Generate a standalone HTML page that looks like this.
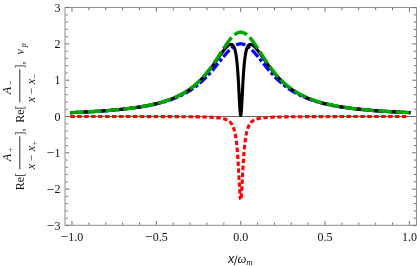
<!DOCTYPE html>
<html><head><meta charset="utf-8"><style>
html,body{margin:0;padding:0;background:#fff;}
.t{filter:grayscale(1);}
svg{display:block;font-family:"Liberation Serif",serif;}
</style></head><body>
<svg width="417" height="266" viewBox="0 0 417 266">
<rect width="417" height="266" fill="#fff"/>
<g fill="none" stroke-linejoin="round">
<path d="M65.0,116.5 H416.5" stroke="#000" stroke-width="0.6"/>
<path d="M70.30,112.68 L71.52,112.63 L72.74,112.58 L73.96,112.53 L75.18,112.47 L76.40,112.42 L77.62,112.37 L78.84,112.31 L80.05,112.25 L81.27,112.20 L82.49,112.14 L83.71,112.08 L84.93,112.02 L86.15,111.95 L87.37,111.89 L88.59,111.82 L89.81,111.76 L91.03,111.69 L92.25,111.62 L93.47,111.55 L94.69,111.48 L95.91,111.40 L97.12,111.33 L98.34,111.25 L99.56,111.17 L100.78,111.09 L102.00,111.00 L103.22,110.92 L104.44,110.83 L105.66,110.74 L106.88,110.65 L108.10,110.56 L109.32,110.46 L110.54,110.36 L111.76,110.26 L112.98,110.16 L114.19,110.05 L115.41,109.94 L116.63,109.83 L117.85,109.72 L119.07,109.60 L120.29,109.48 L121.51,109.36 L122.73,109.23 L123.95,109.10 L125.17,108.97 L126.39,108.83 L127.61,108.69 L128.83,108.55 L130.05,108.40 L131.26,108.25 L132.48,108.09 L133.70,107.93 L134.92,107.77 L136.14,107.59 L137.36,107.42 L138.58,107.24 L139.80,107.05 L141.02,106.86 L142.24,106.66 L143.46,106.46 L144.68,106.25 L145.90,106.04 L147.12,105.81 L148.33,105.58 L149.55,105.35 L150.77,105.10 L151.99,104.85 L153.21,104.59 L154.43,104.32 L155.65,104.04 L156.87,103.76 L158.09,103.46 L159.31,103.15 L160.53,102.84 L161.75,102.51 L162.97,102.17 L164.19,101.82 L165.40,101.45 L166.62,101.08 L167.84,100.69 L169.06,100.29 L170.28,99.87 L171.50,99.43 L172.72,98.98 L173.94,98.52 L175.16,98.03 L176.38,97.53 L177.60,97.01 L178.82,96.47 L180.04,95.91 L181.25,95.33 L182.47,94.73 L183.69,94.10 L184.91,93.45 L186.13,92.77 L187.35,92.07 L188.57,91.34 L189.79,90.58 L191.01,89.79 L192.23,88.97 L193.45,88.12 L194.67,87.24 L195.89,86.32 L197.11,85.37 L198.32,84.39 L199.54,83.36 L200.76,82.31 L201.98,81.21 L203.20,80.07 L204.42,78.90 L205.64,77.69 L206.86,76.44 L208.08,75.15 L209.30,73.83 L210.52,72.47 L211.74,71.08 L212.96,69.66 L214.18,68.20 L215.39,66.73 L215.52,66.57 L215.65,66.41 L215.78,66.26 L215.90,66.10 L216.03,65.95 L216.16,65.79 L216.29,65.63 L216.41,65.48 L216.54,65.32 L216.67,65.16 L216.79,65.01 L216.92,64.85 L217.05,64.69 L217.18,64.53 L217.30,64.38 L217.43,64.22 L217.56,64.06 L217.68,63.90 L217.81,63.74 L217.94,63.58 L218.07,63.43 L218.19,63.27 L218.32,63.11 L218.45,62.95 L218.57,62.79 L218.70,62.63 L218.83,62.47 L218.96,62.31 L219.08,62.15 L219.21,62.00 L219.34,61.84 L219.46,61.68 L219.59,61.52 L219.72,61.36 L219.85,61.20 L219.97,61.04 L220.10,60.88 L220.23,60.72 L220.35,60.56 L220.48,60.40 L220.61,60.25 L220.74,60.09 L220.86,59.93 L220.99,59.77 L221.12,59.61 L221.24,59.45 L221.37,59.29 L221.50,59.14 L221.63,58.98 L221.75,58.82 L221.88,58.66 L222.01,58.50 L222.13,58.35 L222.26,58.19 L222.39,58.03 L222.52,57.88 L222.64,57.72 L222.77,57.56 L222.90,57.41 L223.02,57.25 L223.15,57.10 L223.28,56.94 L223.41,56.79 L223.53,56.63 L223.66,56.48 L223.79,56.32 L223.91,56.17 L224.04,56.02 L224.17,55.86 L224.30,55.71 L224.42,55.56 L224.55,55.41 L224.68,55.26 L224.80,55.11 L224.93,54.95 L225.06,54.80 L225.19,54.66 L225.31,54.51 L225.44,54.36 L225.57,54.21 L225.70,54.06 L225.82,53.91 L225.95,53.77 L226.08,53.62 L226.20,53.48 L226.33,53.33 L226.46,53.19 L226.59,53.04 L226.71,52.90 L226.84,52.76 L226.97,52.62 L227.09,52.48 L227.22,52.34 L227.35,52.20 L227.48,52.06 L227.60,51.92 L227.73,51.78 L227.86,51.64 L227.98,51.51 L228.11,51.37 L228.24,51.24 L228.37,51.11 L228.49,50.97 L228.62,50.84 L228.75,50.71 L228.87,50.58 L229.00,50.45 L229.13,50.32 L229.26,50.19 L229.38,50.07 L229.51,49.94 L229.64,49.81 L229.76,49.69 L229.89,49.57 L230.02,49.45 L230.15,49.32 L230.27,49.20 L230.40,49.09 L230.53,48.97 L230.65,48.85 L230.78,48.73 L230.91,48.62 L231.04,48.51 L231.16,48.39 L231.29,48.28 L231.42,48.17 L231.54,48.06 L231.67,47.95 L231.80,47.85 L231.93,47.74 L232.05,47.64 L232.18,47.53 L232.31,47.43 L232.43,47.33 L232.56,47.23 L232.69,47.13 L232.82,47.03 L232.94,46.94 L233.07,46.84 L233.20,46.75 L233.32,46.66 L233.45,46.57 L233.58,46.48 L233.71,46.39 L233.83,46.30 L233.96,46.22 L234.09,46.13 L234.21,46.05 L234.34,45.97 L234.47,45.89 L234.60,45.81 L234.72,45.74 L234.85,45.66 L234.98,45.59 L235.10,45.51 L235.23,45.44 L235.36,45.37 L235.49,45.31 L235.61,45.24 L235.74,45.17 L235.87,45.11 L236.00,45.05 L236.12,44.99 L236.25,44.93 L236.38,44.87 L236.50,44.82 L236.63,44.76 L236.76,44.71 L236.89,44.66 L237.01,44.61 L237.14,44.56 L237.27,44.52 L237.39,44.47 L237.52,44.43 L237.65,44.39 L237.78,44.35 L237.90,44.31 L238.03,44.27 L238.16,44.24 L238.28,44.21 L238.41,44.18 L238.54,44.15 L238.67,44.12 L238.79,44.09 L238.92,44.07 L239.05,44.04 L239.17,44.02 L239.30,44.00 L239.43,43.99 L239.56,43.97 L239.68,43.95 L239.81,43.94 L239.94,43.93 L240.06,43.92 L240.19,43.91 L240.32,43.91 L240.45,43.90 L240.57,43.90 L240.70,43.90" stroke="#0000ff" stroke-width="3.3" stroke-dasharray="9.300 2.500 3.400 2.500" stroke-dashoffset="6.434"/><path d="M240.10,43.92 L240.19,43.91 L240.27,43.91 L240.36,43.91 L240.44,43.90 L240.53,43.90 L240.61,43.90 L240.70,43.90 L240.83,43.90 L240.95,43.90 L241.08,43.91 L241.21,43.91 L241.34,43.92 L241.46,43.93 L241.59,43.94 L241.72,43.95 L241.84,43.97 L241.97,43.99 L242.10,44.00 L242.23,44.02 L242.35,44.04 L242.48,44.07 L242.61,44.09 L242.73,44.12 L242.86,44.15 L242.99,44.18 L243.12,44.21 L243.24,44.24 L243.37,44.27 L243.50,44.31 L243.62,44.35 L243.75,44.39 L243.88,44.43 L244.01,44.47 L244.13,44.52 L244.26,44.56 L244.39,44.61 L244.51,44.66 L244.64,44.71 L244.77,44.76 L244.90,44.82 L245.02,44.87 L245.15,44.93 L245.28,44.99 L245.40,45.05 L245.53,45.11 L245.66,45.17 L245.79,45.24 L245.91,45.31 L246.04,45.37 L246.17,45.44 L246.30,45.51 L246.42,45.59 L246.55,45.66 L246.68,45.74 L246.80,45.81 L246.93,45.89 L247.06,45.97 L247.19,46.05 L247.31,46.13 L247.44,46.22 L247.57,46.30 L247.69,46.39 L247.82,46.48 L247.95,46.57 L248.08,46.66 L248.20,46.75 L248.33,46.84 L248.46,46.94 L248.58,47.03 L248.71,47.13 L248.84,47.23 L248.97,47.33 L249.09,47.43 L249.22,47.53 L249.35,47.64 L249.47,47.74 L249.60,47.85 L249.73,47.95 L249.86,48.06 L249.98,48.17 L250.11,48.28 L250.24,48.39 L250.36,48.51 L250.49,48.62 L250.62,48.73 L250.75,48.85 L250.87,48.97 L251.00,49.09 L251.13,49.20 L251.25,49.32 L251.38,49.45 L251.51,49.57 L251.64,49.69 L251.76,49.81 L251.89,49.94 L252.02,50.07 L252.14,50.19 L252.27,50.32 L252.40,50.45 L252.53,50.58 L252.65,50.71 L252.78,50.84 L252.91,50.97 L253.03,51.11 L253.16,51.24 L253.29,51.37 L253.42,51.51 L253.54,51.64 L253.67,51.78 L253.80,51.92 L253.92,52.06 L254.05,52.20 L254.18,52.34 L254.31,52.48 L254.43,52.62 L254.56,52.76 L254.69,52.90 L254.81,53.04 L254.94,53.19 L255.07,53.33 L255.20,53.48 L255.32,53.62 L255.45,53.77 L255.58,53.91 L255.70,54.06 L255.83,54.21 L255.96,54.36 L256.09,54.51 L256.21,54.66 L256.34,54.80 L256.47,54.95 L256.60,55.11 L256.72,55.26 L256.85,55.41 L256.98,55.56 L257.10,55.71 L257.23,55.86 L257.36,56.02 L257.49,56.17 L257.61,56.32 L257.74,56.48 L257.87,56.63 L257.99,56.79 L258.12,56.94 L258.25,57.10 L258.38,57.25 L258.50,57.41 L258.63,57.56 L258.76,57.72 L258.88,57.88 L259.01,58.03 L259.14,58.19 L259.27,58.35 L259.39,58.50 L259.52,58.66 L259.65,58.82 L259.77,58.98 L259.90,59.14 L260.03,59.29 L260.16,59.45 L260.28,59.61 L260.41,59.77 L260.54,59.93 L260.66,60.09 L260.79,60.25 L260.92,60.40 L261.05,60.56 L261.17,60.72 L261.30,60.88 L261.43,61.04 L261.55,61.20 L261.68,61.36 L261.81,61.52 L261.94,61.68 L262.06,61.84 L262.19,62.00 L262.32,62.15 L262.44,62.31 L262.57,62.47 L262.70,62.63 L262.83,62.79 L262.95,62.95 L263.08,63.11 L263.21,63.27 L263.33,63.43 L263.46,63.58 L263.59,63.74 L263.72,63.90 L263.84,64.06 L263.97,64.22 L264.10,64.38 L264.22,64.53 L264.35,64.69 L264.48,64.85 L264.61,65.01 L264.73,65.16 L264.86,65.32 L264.99,65.48 L265.11,65.63 L265.24,65.79 L265.37,65.95 L265.50,66.10 L265.62,66.26 L265.75,66.41 L265.88,66.57 L266.00,66.73 L267.21,68.19 L268.41,69.62 L269.62,71.03 L270.82,72.41 L272.03,73.75 L273.24,75.06 L274.44,76.34 L275.64,77.57 L276.85,78.78 L278.06,79.94 L279.26,81.06 L280.46,82.15 L281.67,83.21 L282.88,84.22 L284.08,85.20 L285.28,86.15 L286.49,87.06 L287.69,87.94 L288.90,88.78 L290.10,89.60 L291.31,90.39 L292.51,91.14 L293.72,91.87 L294.92,92.57 L296.13,93.25 L297.33,93.90 L298.54,94.53 L299.75,95.13 L300.95,95.72 L302.15,96.28 L303.36,96.82 L304.56,97.34 L305.77,97.84 L306.97,98.33 L308.18,98.79 L309.38,99.25 L310.59,99.68 L311.79,100.10 L313.00,100.51 L314.20,100.90 L315.41,101.28 L316.62,101.64 L317.82,101.99 L319.02,102.34 L320.23,102.66 L321.43,102.98 L322.64,103.29 L323.84,103.59 L325.05,103.88 L326.25,104.16 L327.46,104.43 L328.66,104.69 L329.87,104.95 L331.07,105.19 L332.28,105.43 L333.48,105.66 L334.69,105.89 L335.89,106.11 L337.10,106.32 L338.30,106.52 L339.51,106.72 L340.71,106.91 L341.92,107.10 L343.12,107.28 L344.33,107.46 L345.53,107.63 L346.74,107.80 L347.94,107.96 L349.15,108.12 L350.36,108.28 L351.56,108.43 L352.76,108.57 L353.97,108.71 L355.17,108.85 L356.38,108.99 L357.58,109.12 L358.79,109.25 L360.00,109.37 L361.20,109.49 L362.40,109.61 L363.61,109.73 L364.81,109.84 L366.02,109.95 L367.22,110.05 L368.43,110.16 L369.63,110.26 L370.84,110.36 L372.04,110.46 L373.25,110.55 L374.45,110.64 L375.66,110.74 L376.87,110.82 L378.07,110.91 L379.27,110.99 L380.48,111.08 L381.68,111.16 L382.89,111.24 L384.09,111.31 L385.30,111.39 L386.50,111.46 L387.71,111.54 L388.91,111.61 L390.12,111.68 L391.32,111.74 L392.53,111.81 L393.74,111.87 L394.94,111.94 L396.14,112.00 L397.35,112.06 L398.55,112.12 L399.76,112.18 L400.96,112.24 L402.17,112.29 L403.38,112.35 L404.58,112.40 L405.78,112.46 L406.99,112.51 L408.19,112.56 L409.40,112.61" stroke="#0000ff" stroke-width="3.3" stroke-dasharray="9.300 2.500 3.400 2.500" stroke-dashoffset="4.050"/>
<path d="M70.30,116.52 L71.52,116.52 L72.74,116.52 L73.96,116.52 L75.18,116.52 L76.40,116.53 L77.62,116.53 L78.84,116.53 L80.05,116.53 L81.27,116.53 L82.49,116.53 L83.71,116.53 L84.93,116.53 L86.15,116.53 L87.37,116.53 L88.59,116.53 L89.81,116.53 L91.03,116.53 L92.25,116.53 L93.47,116.53 L94.69,116.53 L95.91,116.53 L97.12,116.53 L98.34,116.53 L99.56,116.53 L100.78,116.53 L102.00,116.54 L103.22,116.54 L104.44,116.54 L105.66,116.54 L106.88,116.54 L108.10,116.54 L109.32,116.54 L110.54,116.54 L111.76,116.54 L112.98,116.54 L114.19,116.54 L115.41,116.54 L116.63,116.54 L117.85,116.55 L119.07,116.55 L120.29,116.55 L121.51,116.55 L122.73,116.55 L123.95,116.55 L125.17,116.55 L126.39,116.55 L127.61,116.55 L128.83,116.55 L130.05,116.56 L131.26,116.56 L132.48,116.56 L133.70,116.56 L134.92,116.56 L136.14,116.56 L137.36,116.56 L138.58,116.57 L139.80,116.57 L141.02,116.57 L142.24,116.57 L143.46,116.57 L144.68,116.57 L145.90,116.58 L147.12,116.58 L148.33,116.58 L149.55,116.58 L150.77,116.58 L151.99,116.59 L153.21,116.59 L154.43,116.59 L155.65,116.59 L156.87,116.60 L158.09,116.60 L159.31,116.60 L160.53,116.61 L161.75,116.61 L162.97,116.61 L164.19,116.62 L165.40,116.62 L166.62,116.62 L167.84,116.63 L169.06,116.63 L170.28,116.64 L171.50,116.64 L172.72,116.65 L173.94,116.65 L175.16,116.66 L176.38,116.66 L177.60,116.67 L178.82,116.68 L180.04,116.68 L181.25,116.69 L182.47,116.70 L183.69,116.71 L184.91,116.72 L186.13,116.73 L187.35,116.74 L188.57,116.75 L189.79,116.76 L191.01,116.77 L192.23,116.79 L193.45,116.80 L194.67,116.82 L195.89,116.84 L197.11,116.86 L198.32,116.88 L199.54,116.90 L200.76,116.92 L201.98,116.95 L203.20,116.98 L204.42,117.01 L205.64,117.05 L206.86,117.09 L208.08,117.13 L209.30,117.18 L210.52,117.24 L211.74,117.30 L212.96,117.38 L214.18,117.46 L215.39,117.55 L215.52,117.56 L215.65,117.57 L215.78,117.58 L215.90,117.59 L216.03,117.60 L216.16,117.61 L216.29,117.63 L216.41,117.64 L216.54,117.65 L216.67,117.66 L216.79,117.67 L216.92,117.69 L217.05,117.70 L217.18,117.71 L217.30,117.73 L217.43,117.74 L217.56,117.75 L217.68,117.77 L217.81,117.78 L217.94,117.79 L218.07,117.81 L218.19,117.82 L218.32,117.84 L218.45,117.85 L218.57,117.87 L218.70,117.88 L218.83,117.90 L218.96,117.92 L219.08,117.93 L219.21,117.95 L219.34,117.97 L219.46,117.98 L219.59,118.00 L219.72,118.02 L219.85,118.04 L219.97,118.05 L220.10,118.07 L220.23,118.09 L220.35,118.11 L220.48,118.13 L220.61,118.15 L220.74,118.17 L220.86,118.19 L220.99,118.22 L221.12,118.24 L221.24,118.26 L221.37,118.28 L221.50,118.31 L221.63,118.33 L221.75,118.35 L221.88,118.38 L222.01,118.40 L222.13,118.43 L222.26,118.45 L222.39,118.48 L222.52,118.51 L222.64,118.54 L222.77,118.56 L222.90,118.59 L223.02,118.62 L223.15,118.65 L223.28,118.68 L223.41,118.72 L223.53,118.75 L223.66,118.78 L223.79,118.81 L223.91,118.85 L224.04,118.88 L224.17,118.92 L224.30,118.95 L224.42,118.99 L224.55,119.03 L224.68,119.07 L224.80,119.11 L224.93,119.15 L225.06,119.19 L225.19,119.23 L225.31,119.28 L225.44,119.32 L225.57,119.37 L225.70,119.42 L225.82,119.47 L225.95,119.51 L226.08,119.57 L226.20,119.62 L226.33,119.67 L226.46,119.73 L226.59,119.78 L226.71,119.84 L226.84,119.90 L226.97,119.96 L227.09,120.02 L227.22,120.08 L227.35,120.15 L227.48,120.22 L227.60,120.29 L227.73,120.36 L227.86,120.43 L227.98,120.51 L228.11,120.58 L228.24,120.66 L228.37,120.74 L228.49,120.83 L228.62,120.92 L228.75,121.01 L228.87,121.10 L229.00,121.19 L229.13,121.29 L229.26,121.39 L229.38,121.49 L229.51,121.60 L229.64,121.71 L229.76,121.83 L229.89,121.94 L230.02,122.07 L230.15,122.19 L230.27,122.32 L230.40,122.45 L230.53,122.59 L230.65,122.74 L230.78,122.89 L230.91,123.04 L231.04,123.20 L231.16,123.36 L231.29,123.53 L231.42,123.71 L231.54,123.90 L231.67,124.09 L231.80,124.28 L231.93,124.49 L232.05,124.70 L232.18,124.92 L232.31,125.15 L232.43,125.39 L232.56,125.64 L232.69,125.90 L232.82,126.17 L232.94,126.45 L233.07,126.75 L233.20,127.05 L233.32,127.37 L233.45,127.70 L233.58,128.05 L233.71,128.41 L233.83,128.79 L233.96,129.19 L234.09,129.60 L234.21,130.04 L234.34,130.49 L234.47,130.97 L234.60,131.47 L234.72,131.99 L234.85,132.54 L234.98,133.12 L235.10,133.72 L235.23,134.36 L235.36,135.02 L235.49,135.73 L235.61,136.46 L235.74,137.24 L235.87,138.06 L236.00,138.92 L236.12,139.83 L236.25,140.78 L236.38,141.79 L236.50,142.85 L236.63,143.97 L236.76,145.14 L236.89,146.39 L237.01,147.69 L237.14,149.07 L237.27,150.51 L237.39,152.04 L237.52,153.63 L237.65,155.31 L237.78,157.07 L237.90,158.91 L238.03,160.83 L238.16,162.83 L238.28,164.91 L238.41,167.06 L238.54,169.28 L238.67,171.56 L238.79,173.88 L238.92,176.24 L239.05,178.62 L239.17,181.00 L239.30,183.36 L239.43,185.67 L239.56,187.89 L239.68,190.01 L239.81,191.99 L239.94,193.79 L240.06,195.39 L240.19,196.74 L240.32,197.83 L240.45,198.62 L240.57,199.10 L240.70,199.26" stroke="#ff0000" stroke-width="3.1" stroke-dasharray="4.433 2.519" stroke-dashoffset="0.000"/><path d="M240.10,195.79 L240.19,196.69 L240.27,197.46 L240.36,198.10 L240.44,198.60 L240.53,198.97 L240.61,199.19 L240.70,199.26 L240.83,199.10 L240.95,198.62 L241.08,197.83 L241.21,196.74 L241.34,195.39 L241.46,193.79 L241.59,191.99 L241.72,190.01 L241.84,187.89 L241.97,185.67 L242.10,183.36 L242.23,181.00 L242.35,178.62 L242.48,176.24 L242.61,173.88 L242.73,171.56 L242.86,169.28 L242.99,167.06 L243.12,164.91 L243.24,162.83 L243.37,160.83 L243.50,158.91 L243.62,157.07 L243.75,155.31 L243.88,153.63 L244.01,152.04 L244.13,150.51 L244.26,149.07 L244.39,147.69 L244.51,146.39 L244.64,145.14 L244.77,143.97 L244.90,142.85 L245.02,141.79 L245.15,140.78 L245.28,139.83 L245.40,138.92 L245.53,138.06 L245.66,137.24 L245.79,136.46 L245.91,135.73 L246.04,135.02 L246.17,134.36 L246.30,133.72 L246.42,133.12 L246.55,132.54 L246.68,131.99 L246.80,131.47 L246.93,130.97 L247.06,130.49 L247.19,130.04 L247.31,129.60 L247.44,129.19 L247.57,128.79 L247.69,128.41 L247.82,128.05 L247.95,127.70 L248.08,127.37 L248.20,127.05 L248.33,126.75 L248.46,126.45 L248.58,126.17 L248.71,125.90 L248.84,125.64 L248.97,125.39 L249.09,125.15 L249.22,124.92 L249.35,124.70 L249.47,124.49 L249.60,124.28 L249.73,124.09 L249.86,123.90 L249.98,123.71 L250.11,123.53 L250.24,123.36 L250.36,123.20 L250.49,123.04 L250.62,122.89 L250.75,122.74 L250.87,122.59 L251.00,122.45 L251.13,122.32 L251.25,122.19 L251.38,122.07 L251.51,121.94 L251.64,121.83 L251.76,121.71 L251.89,121.60 L252.02,121.49 L252.14,121.39 L252.27,121.29 L252.40,121.19 L252.53,121.10 L252.65,121.01 L252.78,120.92 L252.91,120.83 L253.03,120.74 L253.16,120.66 L253.29,120.58 L253.42,120.51 L253.54,120.43 L253.67,120.36 L253.80,120.29 L253.92,120.22 L254.05,120.15 L254.18,120.08 L254.31,120.02 L254.43,119.96 L254.56,119.90 L254.69,119.84 L254.81,119.78 L254.94,119.73 L255.07,119.67 L255.20,119.62 L255.32,119.57 L255.45,119.51 L255.58,119.47 L255.70,119.42 L255.83,119.37 L255.96,119.32 L256.09,119.28 L256.21,119.23 L256.34,119.19 L256.47,119.15 L256.60,119.11 L256.72,119.07 L256.85,119.03 L256.98,118.99 L257.10,118.95 L257.23,118.92 L257.36,118.88 L257.49,118.85 L257.61,118.81 L257.74,118.78 L257.87,118.75 L257.99,118.72 L258.12,118.68 L258.25,118.65 L258.38,118.62 L258.50,118.59 L258.63,118.56 L258.76,118.54 L258.88,118.51 L259.01,118.48 L259.14,118.45 L259.27,118.43 L259.39,118.40 L259.52,118.38 L259.65,118.35 L259.77,118.33 L259.90,118.31 L260.03,118.28 L260.16,118.26 L260.28,118.24 L260.41,118.22 L260.54,118.19 L260.66,118.17 L260.79,118.15 L260.92,118.13 L261.05,118.11 L261.17,118.09 L261.30,118.07 L261.43,118.05 L261.55,118.04 L261.68,118.02 L261.81,118.00 L261.94,117.98 L262.06,117.97 L262.19,117.95 L262.32,117.93 L262.44,117.92 L262.57,117.90 L262.70,117.88 L262.83,117.87 L262.95,117.85 L263.08,117.84 L263.21,117.82 L263.33,117.81 L263.46,117.79 L263.59,117.78 L263.72,117.77 L263.84,117.75 L263.97,117.74 L264.10,117.73 L264.22,117.71 L264.35,117.70 L264.48,117.69 L264.61,117.67 L264.73,117.66 L264.86,117.65 L264.99,117.64 L265.11,117.63 L265.24,117.61 L265.37,117.60 L265.50,117.59 L265.62,117.58 L265.75,117.57 L265.88,117.56 L266.00,117.55 L267.20,117.46 L268.40,117.38 L269.60,117.31 L270.80,117.24 L272.00,117.19 L273.19,117.14 L274.39,117.10 L275.59,117.06 L276.79,117.02 L277.99,116.99 L279.19,116.96 L280.38,116.93 L281.58,116.91 L282.78,116.88 L283.98,116.86 L285.18,116.84 L286.38,116.83 L287.57,116.81 L288.77,116.79 L289.97,116.78 L291.17,116.77 L292.37,116.75 L293.57,116.74 L294.76,116.73 L295.96,116.72 L297.16,116.71 L298.36,116.70 L299.56,116.70 L300.76,116.69 L301.95,116.68 L303.15,116.67 L304.35,116.67 L305.55,116.66 L306.75,116.66 L307.94,116.65 L309.14,116.65 L310.34,116.64 L311.54,116.64 L312.74,116.63 L313.94,116.63 L315.13,116.62 L316.33,116.62 L317.53,116.62 L318.73,116.61 L319.93,116.61 L321.13,116.61 L322.32,116.60 L323.52,116.60 L324.72,116.60 L325.92,116.59 L327.12,116.59 L328.32,116.59 L329.51,116.59 L330.71,116.58 L331.91,116.58 L333.11,116.58 L334.31,116.58 L335.51,116.58 L336.70,116.57 L337.90,116.57 L339.10,116.57 L340.30,116.57 L341.50,116.57 L342.69,116.57 L343.89,116.56 L345.09,116.56 L346.29,116.56 L347.49,116.56 L348.69,116.56 L349.88,116.56 L351.08,116.56 L352.28,116.55 L353.48,116.55 L354.68,116.55 L355.88,116.55 L357.07,116.55 L358.27,116.55 L359.47,116.55 L360.67,116.55 L361.87,116.55 L363.07,116.55 L364.26,116.54 L365.46,116.54 L366.66,116.54 L367.86,116.54 L369.06,116.54 L370.26,116.54 L371.45,116.54 L372.65,116.54 L373.85,116.54 L375.05,116.54 L376.25,116.54 L377.44,116.54 L378.64,116.54 L379.84,116.54 L381.04,116.53 L382.24,116.53 L383.44,116.53 L384.63,116.53 L385.83,116.53 L387.03,116.53 L388.23,116.53 L389.43,116.53 L390.63,116.53 L391.82,116.53 L393.02,116.53 L394.22,116.53 L395.42,116.53 L396.62,116.53 L397.82,116.53 L399.01,116.53 L400.21,116.53 L401.41,116.53 L402.61,116.53 L403.81,116.53 L405.01,116.53 L406.20,116.52 L407.40,116.52 L408.60,116.52" stroke="#ff0000" stroke-width="3.1" stroke-dasharray="4.420 2.511" stroke-dashoffset="1.762"/>
<path d="M70.30,112.67 L71.52,112.62 L72.74,112.57 L73.96,112.52 L75.18,112.47 L76.40,112.41 L77.62,112.36 L78.84,112.30 L80.05,112.24 L81.27,112.19 L82.49,112.13 L83.71,112.06 L84.93,112.00 L86.15,111.94 L87.37,111.87 L88.59,111.81 L89.81,111.74 L91.03,111.67 L92.25,111.60 L93.47,111.53 L94.69,111.45 L95.91,111.38 L97.12,111.30 L98.34,111.22 L99.56,111.14 L100.78,111.06 L102.00,110.97 L103.22,110.89 L104.44,110.80 L105.66,110.71 L106.88,110.61 L108.10,110.52 L109.32,110.42 L110.54,110.32 L111.76,110.22 L112.98,110.11 L114.19,110.01 L115.41,109.89 L116.63,109.78 L117.85,109.66 L119.07,109.55 L120.29,109.42 L121.51,109.30 L122.73,109.17 L123.95,109.03 L125.17,108.90 L126.39,108.76 L127.61,108.61 L128.83,108.46 L130.05,108.31 L131.26,108.16 L132.48,107.99 L133.70,107.83 L134.92,107.66 L136.14,107.48 L137.36,107.30 L138.58,107.11 L139.80,106.92 L141.02,106.72 L142.24,106.52 L143.46,106.31 L144.68,106.09 L145.90,105.87 L147.12,105.63 L148.33,105.39 L149.55,105.15 L150.77,104.89 L151.99,104.63 L153.21,104.36 L154.43,104.08 L155.65,103.78 L156.87,103.48 L158.09,103.17 L159.31,102.85 L160.53,102.51 L161.75,102.17 L162.97,101.81 L164.19,101.44 L165.40,101.05 L166.62,100.65 L167.84,100.24 L169.06,99.81 L170.28,99.36 L171.50,98.90 L172.72,98.42 L173.94,97.92 L175.16,97.40 L176.38,96.86 L177.60,96.29 L178.82,95.71 L180.04,95.10 L181.25,94.47 L182.47,93.81 L183.69,93.12 L184.91,92.41 L186.13,91.67 L187.35,90.89 L188.57,90.09 L189.79,89.25 L191.01,88.37 L192.23,87.46 L193.45,86.51 L194.67,85.53 L195.89,84.50 L197.11,83.43 L198.32,82.31 L199.54,81.16 L200.76,79.95 L201.98,78.70 L203.20,77.41 L204.42,76.06 L205.64,74.67 L206.86,73.23 L208.08,71.75 L209.30,70.21 L210.52,68.64 L211.74,67.02 L212.96,65.37 L214.18,63.68 L215.39,61.97 L215.52,61.79 L215.65,61.61 L215.78,61.43 L215.90,61.24 L216.03,61.06 L216.16,60.88 L216.29,60.70 L216.41,60.52 L216.54,60.34 L216.67,60.16 L216.79,59.98 L216.92,59.79 L217.05,59.61 L217.18,59.43 L217.30,59.25 L217.43,59.07 L217.56,58.88 L217.68,58.70 L217.81,58.52 L217.94,58.34 L218.07,58.15 L218.19,57.97 L218.32,57.79 L218.45,57.61 L218.57,57.43 L218.70,57.24 L218.83,57.06 L218.96,56.88 L219.08,56.70 L219.21,56.52 L219.34,56.33 L219.46,56.15 L219.59,55.97 L219.72,55.79 L219.85,55.61 L219.97,55.43 L220.10,55.25 L220.23,55.07 L220.35,54.89 L220.48,54.71 L220.61,54.53 L220.74,54.35 L220.86,54.18 L220.99,54.00 L221.12,53.82 L221.24,53.64 L221.37,53.47 L221.50,53.29 L221.63,53.12 L221.75,52.94 L221.88,52.77 L222.01,52.59 L222.13,52.42 L222.26,52.25 L222.39,52.08 L222.52,51.90 L222.64,51.73 L222.77,51.56 L222.90,51.39 L223.02,51.23 L223.15,51.06 L223.28,50.89 L223.41,50.73 L223.53,50.56 L223.66,50.40 L223.79,50.24 L223.91,50.07 L224.04,49.91 L224.17,49.75 L224.30,49.60 L224.42,49.44 L224.55,49.28 L224.68,49.13 L224.80,48.97 L224.93,48.82 L225.06,48.67 L225.19,48.52 L225.31,48.37 L225.44,48.23 L225.57,48.08 L225.70,47.94 L225.82,47.80 L225.95,47.66 L226.08,47.52 L226.20,47.39 L226.33,47.25 L226.46,47.12 L226.59,46.99 L226.71,46.86 L226.84,46.73 L226.97,46.61 L227.09,46.49 L227.22,46.37 L227.35,46.25 L227.48,46.14 L227.60,46.03 L227.73,45.92 L227.86,45.81 L227.98,45.71 L228.11,45.61 L228.24,45.51 L228.37,45.41 L228.49,45.32 L228.62,45.23 L228.75,45.15 L228.87,45.07 L229.00,44.99 L229.13,44.92 L229.26,44.85 L229.38,44.78 L229.51,44.72 L229.64,44.66 L229.76,44.61 L229.89,44.56 L230.02,44.52 L230.15,44.48 L230.27,44.44 L230.40,44.42 L230.53,44.39 L230.65,44.38 L230.78,44.37 L230.91,44.36 L231.04,44.36 L231.16,44.37 L231.29,44.39 L231.42,44.41 L231.54,44.44 L231.67,44.48 L231.80,44.52 L231.93,44.58 L232.05,44.64 L232.18,44.72 L232.31,44.80 L232.43,44.89 L232.56,45.00 L232.69,45.11 L232.82,45.24 L232.94,45.38 L233.07,45.53 L233.20,45.69 L233.32,45.87 L233.45,46.07 L233.58,46.28 L233.71,46.51 L233.83,46.75 L233.96,47.01 L234.09,47.29 L234.21,47.59 L234.34,47.92 L234.47,48.26 L234.60,48.63 L234.72,49.03 L234.85,49.45 L234.98,49.90 L235.10,50.38 L235.23,50.89 L235.36,51.44 L235.49,52.02 L235.61,52.63 L235.74,53.29 L235.87,53.99 L236.00,54.74 L236.12,55.53 L236.25,56.38 L236.38,57.27 L236.50,58.23 L236.63,59.24 L236.76,60.32 L236.89,61.46 L237.01,62.67 L237.14,63.96 L237.27,65.32 L237.39,66.77 L237.52,68.29 L237.65,69.91 L237.78,71.61 L237.90,73.41 L238.03,75.29 L238.16,77.27 L238.28,79.34 L238.41,81.50 L238.54,83.74 L238.67,86.05 L238.79,88.43 L238.92,90.86 L239.05,93.33 L239.17,95.81 L239.30,98.29 L239.43,100.73 L239.56,103.10 L239.68,105.37 L239.81,107.49 L239.94,109.44 L240.06,111.17 L240.19,112.65 L240.32,113.83 L240.45,114.70 L240.57,115.23 L240.70,115.41 L240.83,115.23 L240.95,114.70 L241.08,113.83 L241.21,112.65 L241.34,111.17 L241.46,109.44 L241.59,107.49 L241.72,105.37 L241.84,103.10 L241.97,100.73 L242.10,98.29 L242.23,95.81 L242.35,93.33 L242.48,90.86 L242.61,88.43 L242.73,86.05 L242.86,83.74 L242.99,81.50 L243.12,79.34 L243.24,77.27 L243.37,75.29 L243.50,73.41 L243.62,71.61 L243.75,69.91 L243.88,68.29 L244.01,66.77 L244.13,65.32 L244.26,63.96 L244.39,62.67 L244.51,61.46 L244.64,60.32 L244.77,59.24 L244.90,58.23 L245.02,57.27 L245.15,56.38 L245.28,55.53 L245.40,54.74 L245.53,53.99 L245.66,53.29 L245.79,52.63 L245.91,52.02 L246.04,51.44 L246.17,50.89 L246.30,50.38 L246.42,49.90 L246.55,49.45 L246.68,49.03 L246.80,48.63 L246.93,48.26 L247.06,47.92 L247.19,47.59 L247.31,47.29 L247.44,47.01 L247.57,46.75 L247.69,46.51 L247.82,46.28 L247.95,46.07 L248.08,45.87 L248.20,45.69 L248.33,45.53 L248.46,45.38 L248.58,45.24 L248.71,45.11 L248.84,45.00 L248.97,44.89 L249.09,44.80 L249.22,44.72 L249.35,44.64 L249.47,44.58 L249.60,44.52 L249.73,44.48 L249.86,44.44 L249.98,44.41 L250.11,44.39 L250.24,44.37 L250.36,44.36 L250.49,44.36 L250.62,44.37 L250.75,44.38 L250.87,44.39 L251.00,44.42 L251.13,44.44 L251.25,44.48 L251.38,44.52 L251.51,44.56 L251.64,44.61 L251.76,44.66 L251.89,44.72 L252.02,44.78 L252.14,44.85 L252.27,44.92 L252.40,44.99 L252.53,45.07 L252.65,45.15 L252.78,45.23 L252.91,45.32 L253.03,45.41 L253.16,45.51 L253.29,45.61 L253.42,45.71 L253.54,45.81 L253.67,45.92 L253.80,46.03 L253.92,46.14 L254.05,46.25 L254.18,46.37 L254.31,46.49 L254.43,46.61 L254.56,46.73 L254.69,46.86 L254.81,46.99 L254.94,47.12 L255.07,47.25 L255.20,47.39 L255.32,47.52 L255.45,47.66 L255.58,47.80 L255.70,47.94 L255.83,48.08 L255.96,48.23 L256.09,48.37 L256.21,48.52 L256.34,48.67 L256.47,48.82 L256.60,48.97 L256.72,49.13 L256.85,49.28 L256.98,49.44 L257.10,49.60 L257.23,49.75 L257.36,49.91 L257.49,50.07 L257.61,50.24 L257.74,50.40 L257.87,50.56 L257.99,50.73 L258.12,50.89 L258.25,51.06 L258.38,51.23 L258.50,51.39 L258.63,51.56 L258.76,51.73 L258.88,51.90 L259.01,52.08 L259.14,52.25 L259.27,52.42 L259.39,52.59 L259.52,52.77 L259.65,52.94 L259.77,53.12 L259.90,53.29 L260.03,53.47 L260.16,53.64 L260.28,53.82 L260.41,54.00 L260.54,54.18 L260.66,54.35 L260.79,54.53 L260.92,54.71 L261.05,54.89 L261.17,55.07 L261.30,55.25 L261.43,55.43 L261.55,55.61 L261.68,55.79 L261.81,55.97 L261.94,56.15 L262.06,56.33 L262.19,56.52 L262.32,56.70 L262.44,56.88 L262.57,57.06 L262.70,57.24 L262.83,57.43 L262.95,57.61 L263.08,57.79 L263.21,57.97 L263.33,58.15 L263.46,58.34 L263.59,58.52 L263.72,58.70 L263.84,58.88 L263.97,59.07 L264.10,59.25 L264.22,59.43 L264.35,59.61 L264.48,59.79 L264.61,59.98 L264.73,60.16 L264.86,60.34 L264.99,60.52 L265.11,60.70 L265.24,60.88 L265.37,61.06 L265.50,61.24 L265.62,61.43 L265.75,61.61 L265.88,61.79 L266.00,61.97 L267.22,63.68 L268.44,65.36 L269.66,67.01 L270.87,68.63 L272.09,70.20 L273.31,71.73 L274.52,73.21 L275.74,74.65 L276.96,76.04 L278.17,77.38 L279.39,78.68 L280.61,79.92 L281.82,81.12 L283.04,82.28 L284.26,83.39 L285.47,84.46 L286.69,85.49 L287.91,86.48 L289.12,87.43 L290.34,88.34 L291.56,89.21 L292.77,90.05 L293.99,90.86 L295.21,91.63 L296.42,92.37 L297.64,93.09 L298.86,93.77 L300.07,94.43 L301.29,95.06 L302.51,95.67 L303.72,96.26 L304.94,96.82 L306.16,97.36 L307.38,97.88 L308.59,98.38 L309.81,98.86 L311.03,99.33 L312.24,99.77 L313.46,100.20 L314.68,100.62 L315.89,101.02 L317.11,101.41 L318.33,101.78 L319.54,102.14 L320.76,102.48 L321.98,102.82 L323.19,103.14 L324.41,103.45 L325.63,103.75 L326.84,104.05 L328.06,104.33 L329.28,104.60 L330.49,104.86 L331.71,105.12 L332.93,105.37 L334.14,105.61 L335.36,105.84 L336.58,106.06 L337.79,106.28 L339.01,106.49 L340.23,106.70 L341.44,106.90 L342.66,107.09 L343.88,107.28 L345.09,107.46 L346.31,107.63 L347.53,107.80 L348.75,107.97 L349.96,108.13 L351.18,108.29 L352.40,108.44 L353.61,108.59 L354.83,108.74 L356.05,108.88 L357.26,109.01 L358.48,109.15 L359.70,109.28 L360.91,109.40 L362.13,109.53 L363.35,109.65 L364.56,109.76 L365.78,109.88 L367.00,109.99 L368.21,110.10 L369.43,110.20 L370.65,110.30 L371.86,110.40 L373.08,110.50 L374.30,110.60 L375.51,110.69 L376.73,110.78 L377.95,110.87 L379.16,110.96 L380.38,111.04 L381.60,111.13 L382.81,111.21 L384.03,111.29 L385.25,111.36 L386.46,111.44 L387.68,111.51 L388.90,111.59 L390.12,111.66 L391.33,111.73 L392.55,111.79 L393.77,111.86 L394.98,111.93 L396.20,111.99 L397.42,112.05 L398.63,112.11 L399.85,112.17 L401.07,112.23 L402.28,112.29 L403.50,112.34 L404.72,112.40 L405.93,112.45 L407.15,112.51 L408.37,112.56 L409.58,112.61 L410.80,112.66" stroke="#000" stroke-width="3.1"/>
<path d="M70.30,112.65 L71.52,112.60 L72.74,112.55 L73.96,112.50 L75.18,112.44 L76.40,112.39 L77.62,112.33 L78.84,112.28 L80.05,112.22 L81.27,112.16 L82.49,112.10 L83.71,112.04 L84.93,111.98 L86.15,111.91 L87.37,111.85 L88.59,111.78 L89.81,111.71 L91.03,111.64 L92.25,111.57 L93.47,111.50 L94.69,111.43 L95.91,111.35 L97.12,111.27 L98.34,111.19 L99.56,111.11 L100.78,111.03 L102.00,110.94 L103.22,110.85 L104.44,110.77 L105.66,110.67 L106.88,110.58 L108.10,110.48 L109.32,110.39 L110.54,110.28 L111.76,110.18 L112.98,110.08 L114.19,109.97 L115.41,109.86 L116.63,109.74 L117.85,109.62 L119.07,109.50 L120.29,109.38 L121.51,109.25 L122.73,109.12 L123.95,108.99 L125.17,108.85 L126.39,108.71 L127.61,108.56 L128.83,108.42 L130.05,108.26 L131.26,108.10 L132.48,107.94 L133.70,107.77 L134.92,107.60 L136.14,107.42 L137.36,107.24 L138.58,107.05 L139.80,106.86 L141.02,106.66 L142.24,106.45 L143.46,106.24 L144.68,106.02 L145.90,105.80 L147.12,105.56 L148.33,105.32 L149.55,105.07 L150.77,104.82 L151.99,104.55 L153.21,104.28 L154.43,103.99 L155.65,103.70 L156.87,103.39 L158.09,103.08 L159.31,102.76 L160.53,102.42 L161.75,102.07 L162.97,101.71 L164.19,101.33 L165.40,100.94 L166.62,100.54 L167.84,100.12 L169.06,99.69 L170.28,99.24 L171.50,98.77 L172.72,98.28 L173.94,97.78 L175.16,97.25 L176.38,96.71 L177.60,96.14 L178.82,95.55 L180.04,94.93 L181.25,94.29 L182.47,93.63 L183.69,92.93 L184.91,92.21 L186.13,91.46 L187.35,90.68 L188.57,89.86 L189.79,89.01 L191.01,88.12 L192.23,87.20 L193.45,86.24 L194.67,85.23 L195.89,84.19 L197.11,83.10 L198.32,81.97 L199.54,80.79 L200.76,79.57 L201.98,78.29 L203.20,76.97 L204.42,75.59 L205.64,74.17 L206.86,72.69 L208.08,71.17 L209.30,69.59 L210.52,67.96 L211.74,66.29 L212.96,64.57 L214.18,62.81 L215.39,61.01 L215.52,60.82 L215.65,60.63 L215.78,60.44 L215.90,60.25 L216.03,60.06 L216.16,59.86 L216.29,59.67 L216.41,59.48 L216.54,59.29 L216.67,59.10 L216.79,58.90 L216.92,58.71 L217.05,58.52 L217.18,58.32 L217.30,58.13 L217.43,57.93 L217.56,57.74 L217.68,57.55 L217.81,57.35 L217.94,57.16 L218.07,56.96 L218.19,56.76 L218.32,56.57 L218.45,56.37 L218.57,56.18 L218.70,55.98 L218.83,55.78 L218.96,55.59 L219.08,55.39 L219.21,55.19 L219.34,55.00 L219.46,54.80 L219.59,54.60 L219.72,54.40 L219.85,54.21 L219.97,54.01 L220.10,53.81 L220.23,53.62 L220.35,53.42 L220.48,53.22 L220.61,53.02 L220.74,52.82 L220.86,52.63 L220.99,52.43 L221.12,52.23 L221.24,52.04 L221.37,51.84 L221.50,51.64 L221.63,51.44 L221.75,51.25 L221.88,51.05 L222.01,50.85 L222.13,50.66 L222.26,50.46 L222.39,50.26 L222.52,50.07 L222.64,49.87 L222.77,49.68 L222.90,49.48 L223.02,49.29 L223.15,49.09 L223.28,48.90 L223.41,48.70 L223.53,48.51 L223.66,48.31 L223.79,48.12 L223.91,47.93 L224.04,47.74 L224.17,47.54 L224.30,47.35 L224.42,47.16 L224.55,46.97 L224.68,46.78 L224.80,46.59 L224.93,46.40 L225.06,46.21 L225.19,46.02 L225.31,45.83 L225.44,45.64 L225.57,45.46 L225.70,45.27 L225.82,45.09 L225.95,44.90 L226.08,44.72 L226.20,44.53 L226.33,44.35 L226.46,44.17 L226.59,43.98 L226.71,43.80 L226.84,43.62 L226.97,43.44 L227.09,43.26 L227.22,43.09 L227.35,42.91 L227.48,42.73 L227.60,42.56 L227.73,42.38 L227.86,42.21 L227.98,42.04 L228.11,41.86 L228.24,41.69 L228.37,41.52 L228.49,41.35 L228.62,41.19 L228.75,41.02 L228.87,40.85 L229.00,40.69 L229.13,40.52 L229.26,40.36 L229.38,40.20 L229.51,40.04 L229.64,39.88 L229.76,39.72 L229.89,39.56 L230.02,39.41 L230.15,39.25 L230.27,39.10 L230.40,38.95 L230.53,38.80 L230.65,38.65 L230.78,38.50 L230.91,38.35 L231.04,38.21 L231.16,38.06 L231.29,37.92 L231.42,37.78 L231.54,37.64 L231.67,37.50 L231.80,37.36 L231.93,37.23 L232.05,37.09 L232.18,36.96 L232.31,36.83 L232.43,36.70 L232.56,36.57 L232.69,36.45 L232.82,36.32 L232.94,36.20 L233.07,36.08 L233.20,35.96 L233.32,35.84 L233.45,35.72 L233.58,35.61 L233.71,35.49 L233.83,35.38 L233.96,35.27 L234.09,35.16 L234.21,35.06 L234.34,34.95 L234.47,34.85 L234.60,34.75 L234.72,34.65 L234.85,34.56 L234.98,34.46 L235.10,34.37 L235.23,34.28 L235.36,34.19 L235.49,34.10 L235.61,34.01 L235.74,33.93 L235.87,33.85 L236.00,33.77 L236.12,33.69 L236.25,33.61 L236.38,33.54 L236.50,33.47 L236.63,33.40 L236.76,33.33 L236.89,33.27 L237.01,33.20 L237.14,33.14 L237.27,33.08 L237.39,33.02 L237.52,32.97 L237.65,32.91 L237.78,32.86 L237.90,32.81 L238.03,32.77 L238.16,32.72 L238.28,32.68 L238.41,32.64 L238.54,32.60 L238.67,32.57 L238.79,32.53 L238.92,32.50 L239.05,32.47 L239.17,32.44 L239.30,32.42 L239.43,32.39 L239.56,32.37 L239.68,32.35 L239.81,32.34 L239.94,32.32 L240.06,32.31 L240.19,32.30 L240.32,32.29 L240.45,32.29 L240.57,32.29 L240.70,32.28" stroke="#00a500" stroke-width="3.4" stroke-dasharray="13.728 3.908" stroke-dashoffset="0.000"/><path d="M240.10,32.31 L240.19,32.30 L240.27,32.30 L240.36,32.29 L240.44,32.29 L240.53,32.29 L240.61,32.28 L240.70,32.28 L240.83,32.29 L240.95,32.29 L241.08,32.29 L241.21,32.30 L241.34,32.31 L241.46,32.32 L241.59,32.34 L241.72,32.35 L241.84,32.37 L241.97,32.39 L242.10,32.42 L242.23,32.44 L242.35,32.47 L242.48,32.50 L242.61,32.53 L242.73,32.57 L242.86,32.60 L242.99,32.64 L243.12,32.68 L243.24,32.72 L243.37,32.77 L243.50,32.81 L243.62,32.86 L243.75,32.91 L243.88,32.97 L244.01,33.02 L244.13,33.08 L244.26,33.14 L244.39,33.20 L244.51,33.27 L244.64,33.33 L244.77,33.40 L244.90,33.47 L245.02,33.54 L245.15,33.61 L245.28,33.69 L245.40,33.77 L245.53,33.85 L245.66,33.93 L245.79,34.01 L245.91,34.10 L246.04,34.19 L246.17,34.28 L246.30,34.37 L246.42,34.46 L246.55,34.56 L246.68,34.65 L246.80,34.75 L246.93,34.85 L247.06,34.95 L247.19,35.06 L247.31,35.16 L247.44,35.27 L247.57,35.38 L247.69,35.49 L247.82,35.61 L247.95,35.72 L248.08,35.84 L248.20,35.96 L248.33,36.08 L248.46,36.20 L248.58,36.32 L248.71,36.45 L248.84,36.57 L248.97,36.70 L249.09,36.83 L249.22,36.96 L249.35,37.09 L249.47,37.23 L249.60,37.36 L249.73,37.50 L249.86,37.64 L249.98,37.78 L250.11,37.92 L250.24,38.06 L250.36,38.21 L250.49,38.35 L250.62,38.50 L250.75,38.65 L250.87,38.80 L251.00,38.95 L251.13,39.10 L251.25,39.25 L251.38,39.41 L251.51,39.56 L251.64,39.72 L251.76,39.88 L251.89,40.04 L252.02,40.20 L252.14,40.36 L252.27,40.52 L252.40,40.69 L252.53,40.85 L252.65,41.02 L252.78,41.19 L252.91,41.35 L253.03,41.52 L253.16,41.69 L253.29,41.86 L253.42,42.04 L253.54,42.21 L253.67,42.38 L253.80,42.56 L253.92,42.73 L254.05,42.91 L254.18,43.09 L254.31,43.26 L254.43,43.44 L254.56,43.62 L254.69,43.80 L254.81,43.98 L254.94,44.17 L255.07,44.35 L255.20,44.53 L255.32,44.72 L255.45,44.90 L255.58,45.09 L255.70,45.27 L255.83,45.46 L255.96,45.64 L256.09,45.83 L256.21,46.02 L256.34,46.21 L256.47,46.40 L256.60,46.59 L256.72,46.78 L256.85,46.97 L256.98,47.16 L257.10,47.35 L257.23,47.54 L257.36,47.74 L257.49,47.93 L257.61,48.12 L257.74,48.31 L257.87,48.51 L257.99,48.70 L258.12,48.90 L258.25,49.09 L258.38,49.29 L258.50,49.48 L258.63,49.68 L258.76,49.87 L258.88,50.07 L259.01,50.26 L259.14,50.46 L259.27,50.66 L259.39,50.85 L259.52,51.05 L259.65,51.25 L259.77,51.44 L259.90,51.64 L260.03,51.84 L260.16,52.04 L260.28,52.23 L260.41,52.43 L260.54,52.63 L260.66,52.82 L260.79,53.02 L260.92,53.22 L261.05,53.42 L261.17,53.62 L261.30,53.81 L261.43,54.01 L261.55,54.21 L261.68,54.40 L261.81,54.60 L261.94,54.80 L262.06,55.00 L262.19,55.19 L262.32,55.39 L262.44,55.59 L262.57,55.78 L262.70,55.98 L262.83,56.18 L262.95,56.37 L263.08,56.57 L263.21,56.76 L263.33,56.96 L263.46,57.16 L263.59,57.35 L263.72,57.55 L263.84,57.74 L263.97,57.93 L264.10,58.13 L264.22,58.32 L264.35,58.52 L264.48,58.71 L264.61,58.90 L264.73,59.10 L264.86,59.29 L264.99,59.48 L265.11,59.67 L265.24,59.86 L265.37,60.06 L265.50,60.25 L265.62,60.44 L265.75,60.63 L265.88,60.82 L266.00,61.01 L267.21,62.79 L268.41,64.53 L269.62,66.23 L270.82,67.89 L272.03,69.50 L273.24,71.06 L274.44,72.57 L275.64,74.03 L276.85,75.45 L278.06,76.81 L279.26,78.12 L280.46,79.39 L281.67,80.61 L282.88,81.78 L284.08,82.91 L285.28,83.99 L286.49,85.03 L287.69,86.03 L288.90,86.99 L290.10,87.91 L291.31,88.79 L292.51,89.64 L293.72,90.46 L294.92,91.24 L296.13,91.99 L297.33,92.72 L298.54,93.41 L299.75,94.08 L300.95,94.72 L302.15,95.33 L303.36,95.93 L304.56,96.50 L305.77,97.04 L306.97,97.57 L308.18,98.08 L309.38,98.57 L310.59,99.04 L311.79,99.49 L313.00,99.93 L314.20,100.35 L315.41,100.75 L316.62,101.14 L317.82,101.52 L319.02,101.88 L320.23,102.24 L321.43,102.57 L322.64,102.90 L323.84,103.22 L325.05,103.53 L326.25,103.82 L327.46,104.11 L328.66,104.38 L329.87,104.65 L331.07,104.91 L332.28,105.16 L333.48,105.41 L334.69,105.64 L335.89,105.87 L337.10,106.09 L338.30,106.31 L339.51,106.51 L340.71,106.72 L341.92,106.91 L343.12,107.10 L344.33,107.29 L345.53,107.46 L346.74,107.64 L347.94,107.81 L349.15,107.97 L350.36,108.13 L351.56,108.29 L352.76,108.44 L353.97,108.59 L355.17,108.73 L356.38,108.87 L357.58,109.00 L358.79,109.14 L360.00,109.26 L361.20,109.39 L362.40,109.51 L363.61,109.63 L364.81,109.75 L366.02,109.86 L367.22,109.97 L368.43,110.08 L369.63,110.18 L370.84,110.28 L372.04,110.38 L373.25,110.48 L374.45,110.58 L375.66,110.67 L376.87,110.76 L378.07,110.85 L379.27,110.93 L380.48,111.02 L381.68,111.10 L382.89,111.18 L384.09,111.26 L385.30,111.34 L386.50,111.41 L387.71,111.49 L388.91,111.56 L390.12,111.63 L391.32,111.70 L392.53,111.77 L393.74,111.83 L394.94,111.90 L396.14,111.96 L397.35,112.02 L398.55,112.08 L399.76,112.14 L400.96,112.20 L402.17,112.26 L403.38,112.31 L404.58,112.37 L405.78,112.42 L406.99,112.48 L408.19,112.53 L409.40,112.58" stroke="#00a500" stroke-width="3.4" stroke-dasharray="13.597 3.871" stroke-dashoffset="6.202"/>
</g>
<g fill="none" stroke="#8e8e8e" stroke-width="1">
<rect x="65.0" y="7.5" width="351.5" height="217.8"/>
<path d="M72.00,224.80 v-3.80 M72.00,8.00 v3.80 M88.87,224.80 v-2.20 M88.87,8.00 v2.20 M105.74,224.80 v-2.20 M105.74,8.00 v2.20 M122.61,224.80 v-2.20 M122.61,8.00 v2.20 M139.48,224.80 v-2.20 M139.48,8.00 v2.20 M156.35,224.80 v-3.80 M156.35,8.00 v3.80 M173.22,224.80 v-2.20 M173.22,8.00 v2.20 M190.09,224.80 v-2.20 M190.09,8.00 v2.20 M206.96,224.80 v-2.20 M206.96,8.00 v2.20 M223.83,224.80 v-2.20 M223.83,8.00 v2.20 M240.70,224.80 v-3.80 M240.70,8.00 v3.80 M257.57,224.80 v-2.20 M257.57,8.00 v2.20 M274.44,224.80 v-2.20 M274.44,8.00 v2.20 M291.31,224.80 v-2.20 M291.31,8.00 v2.20 M308.18,224.80 v-2.20 M308.18,8.00 v2.20 M325.05,224.80 v-3.80 M325.05,8.00 v3.80 M341.92,224.80 v-2.20 M341.92,8.00 v2.20 M358.79,224.80 v-2.20 M358.79,8.00 v2.20 M375.66,224.80 v-2.20 M375.66,8.00 v2.20 M392.53,224.80 v-2.20 M392.53,8.00 v2.20 M409.40,224.80 v-3.80 M409.40,8.00 v3.80 M65.50,225.40 h3.80 M416.00,225.40 h-3.80 M65.50,218.14 h2.20 M416.00,218.14 h-2.20 M65.50,210.88 h2.20 M416.00,210.88 h-2.20 M65.50,203.62 h2.20 M416.00,203.62 h-2.20 M65.50,196.36 h2.20 M416.00,196.36 h-2.20 M65.50,189.10 h3.80 M416.00,189.10 h-3.80 M65.50,181.84 h2.20 M416.00,181.84 h-2.20 M65.50,174.58 h2.20 M416.00,174.58 h-2.20 M65.50,167.32 h2.20 M416.00,167.32 h-2.20 M65.50,160.06 h2.20 M416.00,160.06 h-2.20 M65.50,152.80 h3.80 M416.00,152.80 h-3.80 M65.50,145.54 h2.20 M416.00,145.54 h-2.20 M65.50,138.28 h2.20 M416.00,138.28 h-2.20 M65.50,131.02 h2.20 M416.00,131.02 h-2.20 M65.50,123.76 h2.20 M416.00,123.76 h-2.20 M65.50,116.50 h3.80 M416.00,116.50 h-3.80 M65.50,109.24 h2.20 M416.00,109.24 h-2.20 M65.50,101.98 h2.20 M416.00,101.98 h-2.20 M65.50,94.72 h2.20 M416.00,94.72 h-2.20 M65.50,87.46 h2.20 M416.00,87.46 h-2.20 M65.50,80.20 h3.80 M416.00,80.20 h-3.80 M65.50,72.94 h2.20 M416.00,72.94 h-2.20 M65.50,65.68 h2.20 M416.00,65.68 h-2.20 M65.50,58.42 h2.20 M416.00,58.42 h-2.20 M65.50,51.16 h2.20 M416.00,51.16 h-2.20 M65.50,43.90 h3.80 M416.00,43.90 h-3.80 M65.50,36.64 h2.20 M416.00,36.64 h-2.20 M65.50,29.38 h2.20 M416.00,29.38 h-2.20 M65.50,22.12 h2.20 M416.00,22.12 h-2.20 M65.50,14.86 h2.20 M416.00,14.86 h-2.20 M65.50,7.60 h3.80 M416.00,7.60 h-3.80" stroke="#707070" stroke-width="1"/>
</g>
<g font-size="12px" fill="#111" class="t"><text x="72.0" y="240.6" text-anchor="middle"><tspan font-size="13.6px" dy="0.35">−</tspan><tspan dy="-0.35">1.0</tspan></text><text x="156.3" y="240.6" text-anchor="middle"><tspan font-size="13.6px" dy="0.35">−</tspan><tspan dy="-0.35">0.5</tspan></text><text x="240.7" y="240.6" text-anchor="middle">0.0</text><text x="325.0" y="240.6" text-anchor="middle">0.5</text><text x="409.4" y="240.6" text-anchor="middle">1.0</text><text x="60.5" y="11.7" text-anchor="end">3</text><text x="60.5" y="48.0" text-anchor="end">2</text><text x="60.5" y="84.3" text-anchor="end">1</text><text x="60.5" y="120.6" text-anchor="end">0</text><text x="60.5" y="156.9" text-anchor="end"><tspan font-size="13.6px" dy="0.35">−</tspan><tspan dy="-0.35">1</tspan></text><text x="60.5" y="193.2" text-anchor="end"><tspan font-size="13.6px" dy="0.35">−</tspan><tspan dy="-0.35">2</tspan></text><text x="60.5" y="229.5" text-anchor="end"><tspan font-size="13.6px" dy="0.35">−</tspan><tspan dy="-0.35">3</tspan></text></g>
<g id="xlabel" fill="#111" class="t">
<text x="228" y="263.2" font-family="Liberation Sans" font-style="italic" font-size="12.5px">x</text>
<path d="M237.1,255.6 L234.3,264.9" stroke="#111" stroke-width="0.9" fill="none"/>
<text x="237.6" y="263.2" font-style="italic" font-size="12.5px">ω</text>
<text x="246.2" y="264.8" font-style="italic" font-size="9px">m</text>
</g>
<g id="ylabel" fill="#111" class="t" transform="translate(23.6,190.2) rotate(-90)" font-size="12px">
<text x="0.0" y="0.0" >Re[</text><rect x="20.9" y="-4.6" width="33" height="1.4" fill="#6a6a6a"/><text x="29.0" y="-12.3" font-style="italic">A</text><text x="38.1" y="-10.6" font-size="8.5px">+</text><text x="21.0" y="11.4" font-style="italic">x</text><text x="29.0" y="11.4" >−</text><text x="39.0" y="11.4" font-style="italic">x</text><text x="44.6" y="13.2" font-size="8.5px">+</text><text x="54.7" y="0.0" >],</text><text x="67.4" y="0.0" >Re[</text><rect x="87.9" y="-4.6" width="33" height="1.4" fill="#6a6a6a"/><text x="96.0" y="-12.3" font-style="italic">A</text><text x="105.1" y="-10.6" font-size="8.5px">−</text><text x="88.0" y="11.4" font-style="italic">x</text><text x="96.0" y="11.4" >−</text><text x="106.0" y="11.4" font-style="italic">x</text><text x="111.6" y="13.2" font-size="8.5px">−</text><text x="121.7" y="0.0" >],</text><text x="135.6" y="0.0" font-style="italic">v</text><text x="143.0" y="2.6" font-style="italic" font-size="8px">p</text>
</g>
</svg>
</body></html>
